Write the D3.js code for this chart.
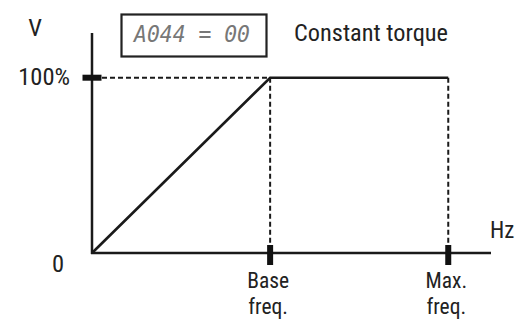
<!DOCTYPE html>
<meta charset="utf-8">
<head>
	<style>
		body { margin: 0; background: #fff; }
		text { font-family: "Liberation Sans Narrow", "Roboto Condensed", "Liberation Sans", sans-serif; fill: #222; font-size: 24.5px; }
		.guide { fill: none; stroke: #1a1a1a; stroke-width: 2; stroke-dasharray: 5,3; }
	</style>
	<script src="https://cdn.jsdelivr.net/npm/d3@7"></script>
</head>
<body></body>
<script>

	// frequency (relative to max freq.) and voltage (fraction of 100%)
	var curveFreq = [0, 0.5, 1.0],
	    curveVolt = [0, 1.0, 1.0];
	var tickFreq = [0.5, 1.0],
	    tickLabels = [["Base", "freq."], ["Max.", "freq."]];
	var voltTicks = [0, 1.0],
	    voltLabels = ["0", "100%"];

	var width = 515, height = 320;

	var svg = d3.select("body").append("svg")
		.attr("width", width)
		.attr("height", height);

	var x = d3.scaleLinear().domain([0, 1.12]).range([92, 491]),
	    y = d3.scaleLinear().domain([0, 1.255]).range([253, 33]);

	// axes
	svg.append("line")
		.attr("x1", x(0)).attr("x2", x(0))
		.attr("y1", y(0) + 1).attr("y2", y.range()[1])
		.attr("stroke", "#1a1a1a").attr("stroke-width", 2.5);
	svg.append("line")
		.attr("x1", x(0) - 1).attr("x2", x.range()[1])
		.attr("y1", y(0)).attr("y2", y(0))
		.attr("stroke", "#1a1a1a").attr("stroke-width", 2.5);

	// dashed guides
	svg.append("line").attr("class", "guide")
		.attr("x1", x(0) + 10).attr("x2", x(curveFreq[1]))
		.attr("y1", y(1)).attr("y2", y(1));
	svg.selectAll(".vguide")
		.data(tickFreq)
	  .enter().append("line")
		.attr("class", "guide")
		.attr("x1", function(d) {return x(d)}).attr("x2", function(d) {return x(d)})
		.attr("y1", y(1)).attr("y2", y(0) - 8);

	// V/f curve
	svg.append("path")
		.datum(d3.zip(curveFreq, curveVolt))
		.attr("fill", "none")
		.attr("stroke", "#1a1a1a")
		.attr("stroke-width", 2.6)
		.attr("d", d3.line().x(function(d) {return x(d[0])}).y(function(d) {return y(d[1])}));

	// thick tick marks
	svg.selectAll(".xtick")
		.data(tickFreq)
	  .enter().append("rect")
		.attr("x", function(d) {return x(d) - 3})
		.attr("y", y(0) - 8)
		.attr("width", 6).attr("height", 20)
		.attr("fill", "#111");
	svg.append("rect")
		.attr("x", x(0) - 9.5).attr("y", y(1) - 3)
		.attr("width", 19).attr("height", 6)
		.attr("fill", "#111");

	// x tick labels, two lines each
	tickFreq.forEach(function(f, i) {
		svg.selectAll(null)
			.data(tickLabels[i])
		  .enter().append("text")
			.attr("text-anchor", "middle")
			.attr("x", x(f) - 2)
			.attr("y", function(d, j) {return y(0) + 35 + j * 25.5})
			.style("font-size", "21.5px")
			.text(function(d) {return d});
	});

	// y tick labels
	svg.selectAll(".ylabel")
		.data(voltTicks)
	  .enter().append("text")
		.attr("x", function(d) {return d === 0 ? 64 : 70})
		.attr("y", function(d) {return y(d) + 7 + (d === 0 ? 12 : 0)})
		.attr("text-anchor", "end")
		.text(function(d, i) {return voltLabels[i]});

	svg.append("text").attr("x", 35).attr("y", 36)
		.attr("text-anchor", "middle").text("V");
	svg.append("text").attr("x", 490).attr("y", 238)
		.style("font-size", "23px").text("Hz");

	// parameter box
	svg.append("rect")
		.attr("x", 121.5).attr("y", 14.5)
		.attr("width", 145).attr("height", 42)
		.attr("fill", "none").attr("stroke", "#222").attr("stroke-width", 2.2);
	svg.append("text")
		.attr("x", 134).attr("y", 42)
		.attr("textLength", 116)
		.attr("lengthAdjust", "spacingAndGlyphs")
		.style("font-family", "'DejaVu Sans Mono', monospace")
		.style("font-style", "italic")
		.style("font-size", "23px")
		.style("fill", "#777")
		.text("A044 = 00");

	svg.append("text").attr("x", 294).attr("y", 41)
		.attr("textLength", 154)
		.attr("lengthAdjust", "spacingAndGlyphs")
		.text("Constant torque");

</script>
